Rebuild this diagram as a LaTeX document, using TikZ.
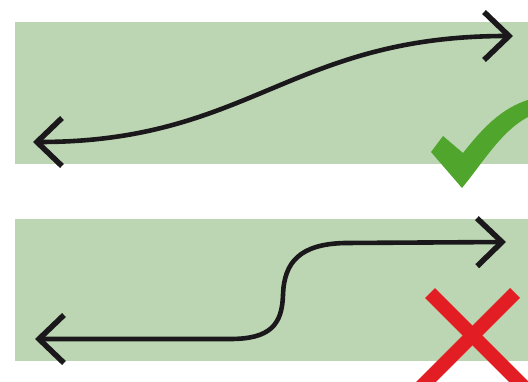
\documentclass[tikz,border=0pt]{standalone}
\usepackage{tikz}
\usetikzlibrary{arrows.meta}
\definecolor{bandfill}{RGB}{188,214,179}
\definecolor{inkc}{RGB}{26,24,26}
\definecolor{okgreen}{RGB}{80,166,44}
\definecolor{badred}{RGB}{226,30,36}

\begin{document}
\begin{tikzpicture}[
  x=1pt, y=-1pt,
  band/.style={fill=bandfill, draw=none},
  arr/.style={{Straight Barb[length=25pt,width=48pt,line width=5.5pt]}-{Straight Barb[length=25pt,width=48pt,line width=5.5pt]}, line width=4.6pt, inkc},
  cross/.style={line width=14pt, badred},
]
\useasboundingbox (0,0) rectangle (528,382);
\clip (0,0) rectangle (528,382);

% ============ smooth curve (good) ============
\fill[band] (15,22) rectangle (528,164);
\coordinate (goodL) at (33,142);
\coordinate (goodR) at (513,36);
\draw[arr] (goodL) .. controls (250,142) and (290,36) .. (goodR);

% tick
\fill[okgreen] (431,152) -- (443,136) -- (463,153)
  .. controls (485,125) and (505,105) .. (535,98) -- (535,114)
  .. controls (505,125) and (485,160) .. (462,188) -- cycle;

% ============ sharp bend (bad) ============
\fill[band] (15,219) rectangle (528,361);
\coordinate (badL) at (35,339);
\coordinate (badR) at (506,242);
\draw[arr] (badL) -- (230,339) .. controls (270,339) and (282,325) .. (283,295)
  .. controls (284,262) and (300,244) .. (345,243) -- (badR);

% cross
\draw[cross] (430,293) -- (525,388);
\draw[cross] (515,293) -- (420,388);
\end{tikzpicture}
\end{document}
